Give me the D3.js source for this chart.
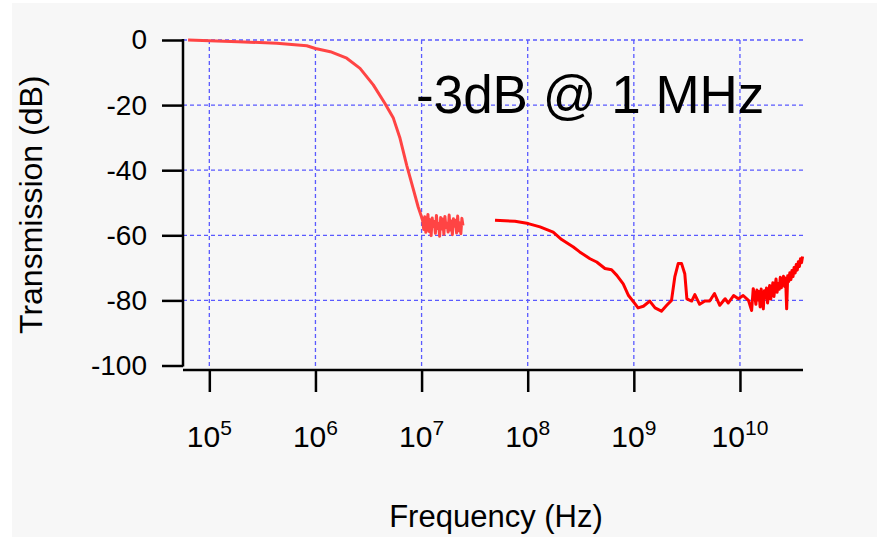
<!DOCTYPE html>
<html lang="en">
<head>
  <meta charset="UTF-8">
  <title>Transmission vs Frequency</title>
  <script src="https://d3js.org/d3.v7.min.js"></script>
  <style>
    body { margin: 0; background: #fff; }
    text { font-family: "Liberation Sans", Arial, sans-serif; fill: #000; }
  </style>
</head>
<body>
  <svg width="882" height="537"></svg>
  <script>
    // log10 of frequency (Hz) and transmission (dB)
    const lowLogF = [4.80, 5.27, 5.635, 5.918, 6.0, 6.14, 6.295, 6.42, 6.545, 6.655, 6.734, 6.797, 6.86, 6.92, 6.968, 7.0,
      7.01, 7.02, 7.03, 7.04, 7.05, 7.06, 7.07, 7.08, 7.09, 7.10, 7.11, 7.12, 7.13, 7.14, 7.15, 7.16, 7.17, 7.18, 7.19, 7.20,
      7.21, 7.22, 7.23, 7.24, 7.25, 7.26, 7.27, 7.28, 7.29, 7.30, 7.31, 7.32, 7.33, 7.34, 7.35, 7.36, 7.37, 7.38, 7.39];
    const lowDb = [0, -0.5, -1.0, -1.75, -2.6, -3.6, -5.6, -8.7, -13.8, -19.5, -24, -30.2, -38.5, -45.6, -51.3, -54.4,
      -55.5, -58.2, -54.3, -59.1, -56.0, -53.6, -58.8, -55.2, -60.1, -54.7, -57.3, -55.8, -59.4, -53.9, -57.9, -56.4, -60.3, -54.5, -58.1, -55.0,
      -59.7, -54.2, -57.6, -56.3, -59.0, -53.8, -58.4, -55.6, -59.8, -54.9, -57.2, -55.4, -59.3, -54.1, -58.6, -56.2, -59.5, -54.8, -57.0];

    const highLogF = [7.692, 7.88, 8.005, 8.116, 8.24, 8.32, 8.43, 8.49, 8.587, 8.65, 8.728, 8.79, 8.84, 8.9, 8.95, 9.01, 9.04,
      9.09, 9.15, 9.2, 9.26, 9.31, 9.355, 9.386, 9.418, 9.45, 9.48, 9.5, 9.545, 9.575, 9.62, 9.67, 9.715, 9.76, 9.81, 9.86,
      9.89, 9.94, 9.985, 10.03, 10.08, 10.11, 10.125,
      10.14, 10.15, 10.16, 10.17, 10.18, 10.19, 10.20, 10.21, 10.22, 10.23, 10.24, 10.25, 10.26, 10.27, 10.28, 10.29, 10.30,
      10.31, 10.32, 10.33, 10.34, 10.35, 10.36, 10.37, 10.38, 10.39, 10.40, 10.41, 10.42, 10.43, 10.44, 10.45, 10.46, 10.47,
      10.48, 10.49, 10.50, 10.51, 10.52, 10.53, 10.54, 10.55, 10.56, 10.57, 10.58, 10.59];
    const highDb = [-55.4, -55.7, -56.4, -57.4, -59, -61.3, -63.6, -65.1, -67.2, -68.2, -70.2, -70.6, -72.3, -74.9, -78.5, -81, -82.3,
      -81.8, -80.2, -82.3, -83.3, -81.5, -80, -72.8, -68.7, -68.7, -71.8, -79.5, -80.2, -78.2, -81.2, -80.2, -80.2, -77.9, -81.5, -79.5,
      -80.8, -78.5, -79.5, -78.5, -80, -83.1, -76.4,
      -78.6, -81.2, -76.8, -79.9, -77.3, -82.0, -76.5, -80.4, -82.6, -77.0, -79.3, -76.2, -80.8, -77.8, -75.4, -79.6, -76.9,
      -74.6, -78.8, -75.9, -73.4, -77.5, -74.8, -76.6, -72.9, -76.1, -74.0, -72.6, -75.7, -73.1, -82.6, -72.4, -74.2, -71.5,
      -73.6, -70.8, -72.7, -69.9, -71.6, -69.0, -70.7, -68.1, -69.6, -67.2, -68.4, -66.5];

    const xTickExp = [5, 6, 7, 8, 9, 10];
    const yTicks = [0, -20, -40, -60, -80, -100];
    const yGrid = [0, -20, -40, -60, -80];

    const svg = d3.select("svg");

    svg.append("rect")
      .attr("x", 12).attr("y", 3)
      .attr("width", 865).attr("height", 534)
      .attr("fill", "#f7f7f7");

    const left = 183, right = 803;
    const x = d3.scaleLog()
      .domain([Math.pow(10, 4.752), Math.pow(10, 10.594)])
      .range([left, right]);
    const y = d3.scaleLinear()
      .domain([-100, 0])
      .range([365.5, 40]);
    const xAxisY = 370;

    // grid
    const grid = svg.append("g")
      .attr("stroke", "#5a5aff")
      .attr("stroke-width", 1.3)
      .attr("stroke-dasharray", "4,3");

    grid.selectAll(".hgrid")
      .data(yGrid)
      .enter().append("line")
      .attr("x1", left).attr("x2", right)
      .attr("y1", d => y(d)).attr("y2", d => y(d));

    grid.selectAll(".vgrid")
      .data(xTickExp)
      .enter().append("line")
      .attr("x1", d => x(Math.pow(10, d))).attr("x2", d => x(Math.pow(10, d)))
      .attr("y1", y(0)).attr("y2", xAxisY);

    // curves
    const line = d3.line()
      .x(d => x(Math.pow(10, d[0])))
      .y(d => y(d[1]));

    svg.append("path")
      .datum(d3.zip(lowLogF, lowDb))
      .attr("fill", "none")
      .attr("stroke", "#ff4444")
      .attr("stroke-width", 3)
      .attr("stroke-linejoin", "round")
      .attr("d", line);

    svg.append("path")
      .datum(d3.zip(highLogF, highDb))
      .attr("fill", "none")
      .attr("stroke", "#ff0000")
      .attr("stroke-width", 3)
      .attr("stroke-linejoin", "round")
      .attr("d", line);

    // y axis
    const yAxis = d3.axisLeft(y)
      .tickValues(yTicks)
      .tickSize(21)
      .tickPadding(15)
      .tickFormat(d => d);

    const gy = svg.append("g")
      .attr("transform", `translate(${left},0)`)
      .call(yAxis);
    gy.select(".domain").remove();
    gy.selectAll("line").attr("stroke", "#000").attr("stroke-width", 2.5);
    gy.selectAll("text")
      .attr("font-size", 28)
      .attr("font-family", "Liberation Sans, Arial, sans-serif")
      .attr("fill", "#000");
    gy.append("line")
      .attr("x1", 0).attr("x2", 0)
      .attr("y1", y(0) - 1).attr("y2", y(-100) + 1)
      .attr("stroke", "#000").attr("stroke-width", 2.5);

    // x axis
    const xAxis = d3.axisBottom(x)
      .tickValues(xTickExp.map(e => Math.pow(10, e)))
      .tickSize(22)
      .tickFormat("");

    const gx = svg.append("g")
      .attr("transform", `translate(0,${xAxisY})`)
      .call(xAxis);
    gx.select(".domain").remove();
    gx.selectAll("line").attr("stroke", "#000").attr("stroke-width", 2.5);
    gx.append("line")
      .attr("x1", left).attr("x2", right)
      .attr("y1", 0).attr("y2", 0)
      .attr("stroke", "#000").attr("stroke-width", 2.5);

    const xl = gx.selectAll(".xlab")
      .data(xTickExp)
      .enter().append("text")
      .attr("class", "xlab")
      .attr("x", d => x(Math.pow(10, d)))
      .attr("y", 77)
      .attr("text-anchor", "middle")
      .attr("font-size", 30);
    xl.append("tspan").text("10");
    xl.append("tspan")
      .attr("font-size", 21)
      .attr("dy", -12)
      .text(d => d);

    // titles
    svg.append("text")
      .attr("x", (left + right) / 2 + 3)
      .attr("y", 527)
      .attr("text-anchor", "middle")
      .attr("font-size", 31)
      .text("Frequency (Hz)");

    svg.append("text")
      .attr("transform", `translate(42,${(y(0) + y(-100)) / 2 + 2}) rotate(-90)`)
      .attr("text-anchor", "middle")
      .attr("font-size", 32)
      .text("Transmission (dB)");

    svg.append("text")
      .attr("x", 416)
      .attr("y", 113)
      .attr("font-size", 53)
      .text("-3dB @ 1 MHz");
  </script>
</body>
</html>
